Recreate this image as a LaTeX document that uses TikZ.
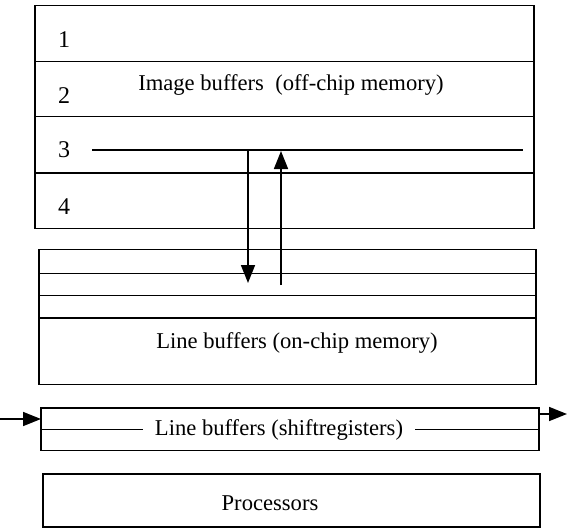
\documentclass[tikz,border=0pt]{standalone}
\usepackage{fontspec}
\setmainfont{Liberation Serif}
\usetikzlibrary{arrows.meta}
\begin{document}
\begin{tikzpicture}[x=0.5pt,y=-0.5pt,
  frame/.style={draw, line width=0.8pt},
  rule/.style={line width=0.8pt},
  arr/.style={line width=0.8pt, -{Triangle[length=9pt,width=7pt]}},
  lbl/.style={font=\fontsize{11.3}{13}\selectfont, inner sep=1pt},
  numlbl/.style={font=\fontsize{12}{13}\selectfont, inner sep=1pt},
  gaplbl/.style={font=\fontsize{11.3}{13}\selectfont, fill=white, inner xsep=6pt, inner ysep=1pt}]
\useasboundingbox (0,0) rectangle (567,530);
% image buffers
\draw[frame] (35,5.5) rectangle (534,228.5);
\foreach \yy in {61.5,116.5,173} \draw[rule] (35,\yy) -- (534,\yy);
\node[numlbl] (n1) at (64,40) {1};
\node[numlbl] (n2) at (64,96) {2};
\node[numlbl] (n3) at (64,150) {3};
\node[numlbl] (n4) at (64,207) {4};
\node[lbl] (imgtxt) at (291,85) {Image buffers\ \ (off-chip memory)};
\coordinate (r3a) at (92,150);
\coordinate (r3b) at (523,150);
\draw[rule] (r3a) -- (r3b);
% line buffers on-chip
\draw[frame] (39,249.5) rectangle (536,384.5);
\foreach \yy in {273.5,295.5,318} \draw[rule] (39,\yy) -- (536,\yy);
\node[lbl] (lbtxt) at (297,343) {Line buffers (on-chip memory)};
% transfer arrows
\coordinate (dtop) at (248,150);
\coordinate (dbot) at (248,283);
\coordinate (ubot) at (281,285);
\coordinate (utop) at (281,151);
\draw[arr] (dtop) -- (dbot);
\draw[arr] (ubot) -- (utop);
% shift registers
\draw[frame] (41,408) rectangle (539,450.5);
\coordinate (smL) at (41,429.5);
\coordinate (smR) at (539,429.5);
\draw[rule] (smL) -- (smR);
\node[gaplbl] (srtxt) at (279,429.5) {Line buffers (shiftregisters)};
\coordinate (inL) at (0,419);
\coordinate (inR) at (41,419);
\coordinate (outL) at (539,414);
\coordinate (outR) at (567,414);
\draw[arr] (inL) -- (inR);
\draw[arr] (outL) -- (outR);
% processors
\draw[frame] (43,474) rectangle (540,527);
\node[lbl] (proc) at (270,503) {Processors};
\end{tikzpicture}
\end{document}
